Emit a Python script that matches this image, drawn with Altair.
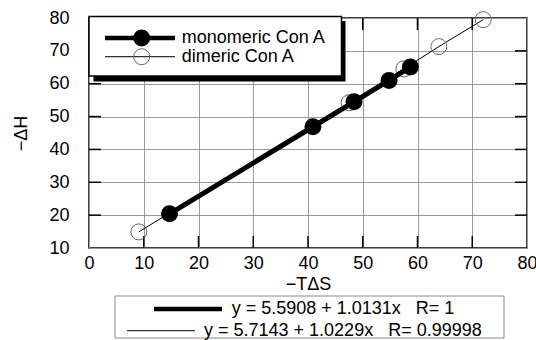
import altair as alt
import pandas as pd

# ---- data ----
MONO_X = [14.7, 40.9, 48.4, 54.8, 58.7]
MONO_Y = [20.4, 46.9, 54.5, 61.0, 65.1]
DI_X = [9.1, 47.5, 57.5, 63.9, 72.0]
DI_Y = [14.9, 54.2, 64.5, 71.3, 79.5]
SERIES = ["monomeric Con A", "dimeric Con A"]
FIT_LABELS = ["y = 5.5908 + 1.0131x \u00a0\u00a0R= 1", "y = 5.7143 + 1.0229x \u00a0\u00a0R= 0.99998"]
X_TICKS = [0, 10, 20, 30, 40, 50, 60, 70, 80]
Y_TICKS = [10, 20, 30, 40, 50, 60, 70, 80]
X_TITLE = "\u2212T\u0394S"
Y_TITLE = "\u2212\u0394H"

# ---- layout / style ----
W, H = 438, 230
FONT = "Liberation Sans"
FS = 18
TICK = 12

mono = pd.DataFrame({"x": MONO_X, "y": MONO_Y})
di = pd.DataFrame({"x": DI_X, "y": DI_Y})

xs = alt.Scale(domain=[0, 80], nice=False, zero=False)
ys = alt.Scale(domain=[10, 80], nice=False, zero=False)

xaxis = alt.Axis(values=X_TICKS, title=X_TITLE, labelPadding=6, titlePadding=3,
                 grid=True, ticks=False, domain=False, format="d",
                 labelFlush=False, labelOverlap=False, labelBound=False)
yaxis = alt.Axis(values=Y_TICKS, title=Y_TITLE, labelPadding=20, titlePadding=18,
                 grid=True, ticks=False, domain=False, format="d",
                 labelFlush=False, labelOverlap=False, labelBound=False)

def X(f):
    return alt.X(f, scale=xs, axis=xaxis)

def Y(f):
    return alt.Y(f, scale=ys, axis=yaxis)

# inner ticks on all four sides
xt = pd.DataFrame({"t": X_TICKS[1:-1]})
yt = pd.DataFrame({"t": Y_TICKS[1:-1]})
tick_style = dict(color="black", strokeWidth=1.5)
ticks = [
    alt.Chart(xt).mark_rule(**tick_style).encode(x=X("t:Q"), y=alt.value(H), y2=alt.value(H - TICK)),
    alt.Chart(xt).mark_rule(**tick_style).encode(x=X("t:Q"), y=alt.value(0), y2=alt.value(TICK)),
    alt.Chart(yt).mark_rule(**tick_style).encode(y=Y("t:Q"), x=alt.value(0), x2=alt.value(TICK)),
    alt.Chart(yt).mark_rule(**tick_style).encode(y=Y("t:Q"), x=alt.value(W), x2=alt.value(W - TICK)),
]

di_line = alt.Chart(di).mark_line(color="black", strokeWidth=1).encode(x=X("x:Q"), y=Y("y:Q"), order="x:Q")
di_pts = alt.Chart(di).mark_point(shape="circle", filled=False, size=256, stroke="#666666",
                                  strokeWidth=1, opacity=1).encode(x=X("x:Q"), y=Y("y:Q"))
mono_line = alt.Chart(mono).mark_line(color="black", strokeWidth=5).encode(x=X("x:Q"), y=Y("y:Q"), order="x:Q")
mono_pts = alt.Chart(mono).mark_point(shape="circle", filled=True, size=289, color="black",
                                      opacity=1).encode(x=X("x:Q"), y=Y("y:Q"))

one = pd.DataFrame({"k": [0]})

def rect(x1, x2, y1, y2, **kw):
    return alt.Chart(one).mark_rect(**kw).encode(
        x=alt.value(x1), x2=alt.value(x2), y=alt.value(y1), y2=alt.value(y2))

def seg(x1, x2, y, w):
    return alt.Chart(one).mark_rule(color="black", strokeWidth=w).encode(
        x=alt.value(x1), x2=alt.value(x2), y=alt.value(y))

def label(txt, x, y):
    return alt.Chart(pd.DataFrame({"label": [txt]})).mark_text(
        align="left", baseline="middle", font=FONT, fontSize=FS, color="black").encode(
        x=alt.value(x), y=alt.value(y), text="label:N")

def dot(x, y, filled):
    if filled:
        m = alt.Chart(one).mark_point(shape="circle", filled=True, size=289, color="black", opacity=1)
    else:
        m = alt.Chart(one).mark_point(shape="circle", filled=False, size=256, stroke="#666666",
                                      strokeWidth=1, opacity=1)
    return m.encode(x=alt.value(x), y=alt.value(y))

# top-left series legend with drop shadow
legend_top = [
    rect(4.5, 256.5, 3, 63.5, color="black"),
    rect(0, 252.5, -1.5, 58, fill="white", stroke="black", strokeWidth=1.5),
    seg(16, 86, 20, 4.5), dot(52.7, 20, True), label(SERIES[0], 92.7, 20),
    seg(16, 86, 38.7, 1), dot(52.7, 38.7, False), label(SERIES[1], 92.7, 38.7),
]

# bottom fit legend
legend_bot = [
    rect(26, 415, 278, 320, fill="white", stroke="#888888", strokeWidth=1),
    seg(65, 133, 291, 4.5), label(FIT_LABELS[0], 142.7, 291),
    seg(38, 106, 312.7, 1), label(FIT_LABELS[1], 115, 313),
]

chart = alt.layer(
    *ticks, di_line, di_pts, mono_line, mono_pts, *legend_top, *legend_bot
).properties(
    width=W, height=H, autosize="none",
    padding={"left": 89, "top": 18, "right": 9, "bottom": 92},
    background="white",
).configure_view(
    stroke="black", strokeWidth=1.5
).configure_axis(
    gridColor="#999999", gridWidth=1, gridOpacity=1,
    labelFont=FONT, labelFontSize=FS, labelColor="black",
    titleFont=FONT, titleFontSize=FS, titleColor="black", titleFontWeight="normal",
)

chart.save("out.html", embed_options={"renderer": "svg", "actions": False})
